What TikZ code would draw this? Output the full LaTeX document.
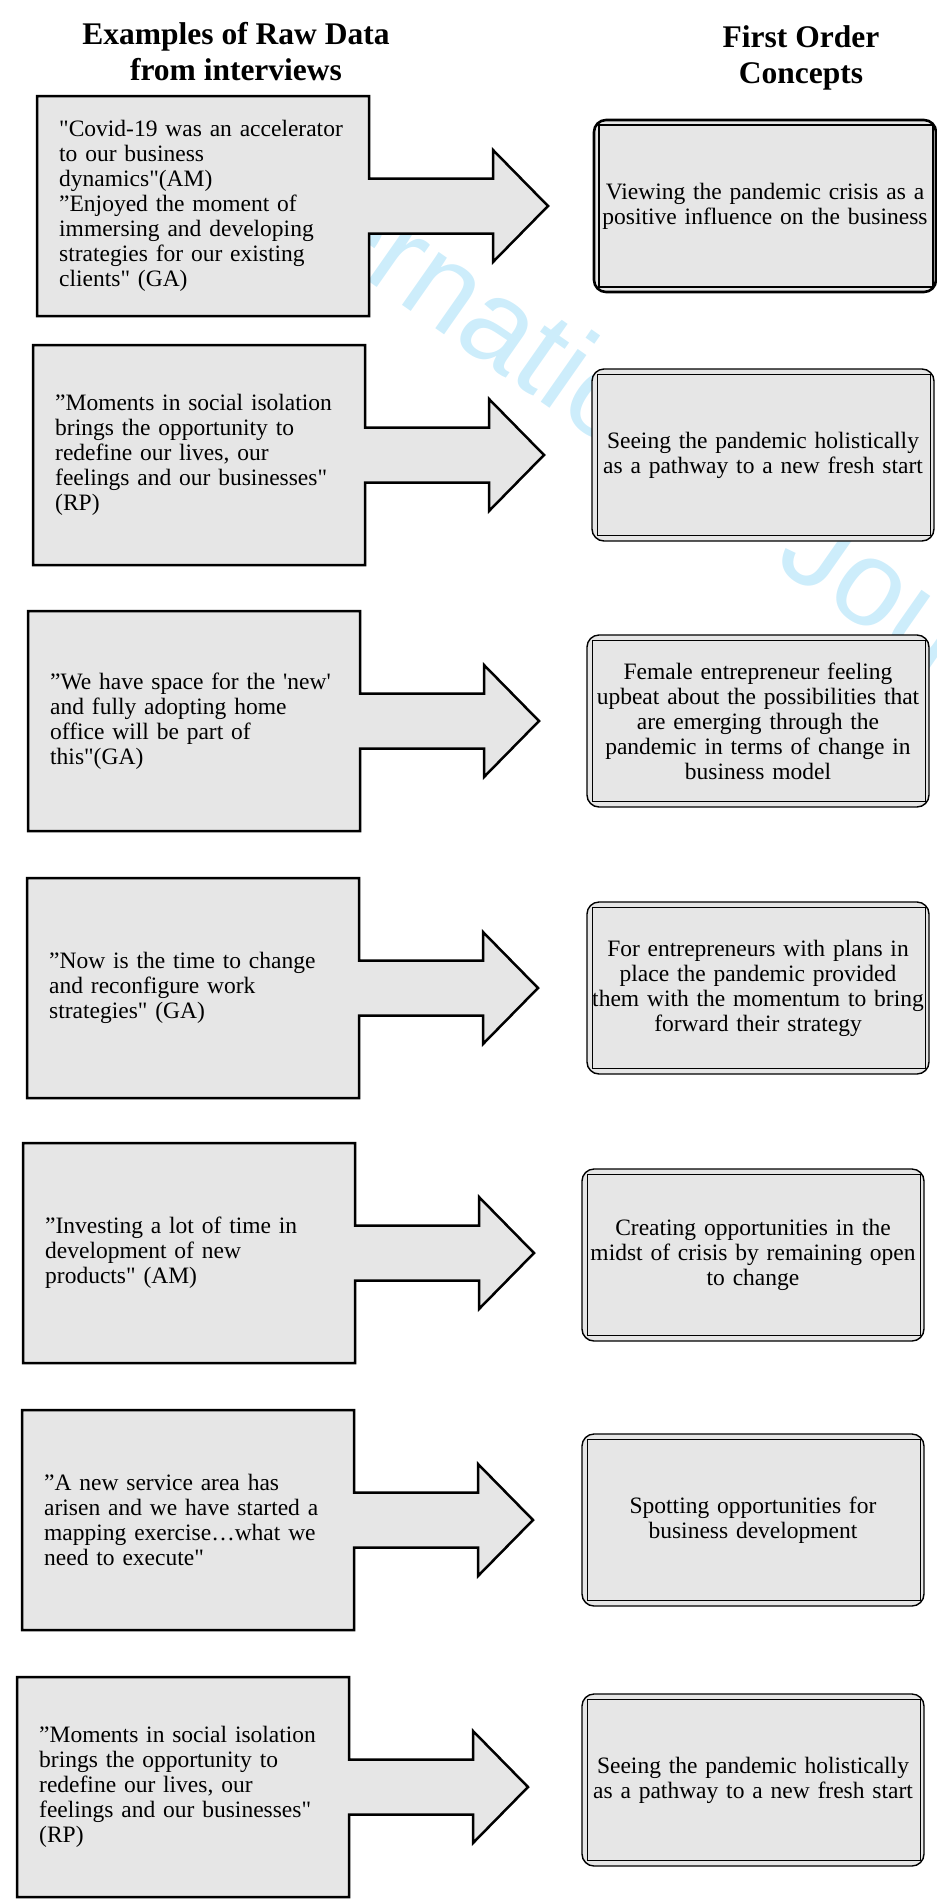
\documentclass[tikz,border=0pt]{standalone}
\usepackage{fontspec}
\setmainfont{Liberation Serif}[Ligatures=TeXOff]
\newfontfamily\wmfont{Liberation Sans}
\usetikzlibrary{calc,backgrounds}
\definecolor{boxgray}{RGB}{230,230,230}
\definecolor{wmblue}{RGB}{205,237,251}

\begin{document}
\begin{tikzpicture}[x=1pt, y=-1pt,
    quote/.style={anchor=west, text width=310pt, inner sep=0pt, align=left, font=\fontsize{23.5}{25}\selectfont},
    concept/.style={draw, line width=1.4pt, rounded corners=12pt, fill=boxgray, minimum width=342pt, minimum height=172pt,
        text width=336pt, inner xsep=3pt, align=center, font=\fontsize{23.5}{25}\selectfont},
    heading/.style={anchor=north, inner sep=0pt, align=center, font=\fontsize{31.5}{36}\selectfont\bfseries},
    callout/.style={draw=black, fill=boxgray, line width=2.5pt, line join=miter},
    wm/.style={inner sep=0pt, text=wmblue, font=\wmfont\fontsize{122}{122}\selectfont}]
    \useasboundingbox (0,0) rectangle (937,1904);

    \node[heading] (hraw) at (236,22) {Examples of Raw Data\\from interviews};
    \node[heading] (hfirst) at (801,25) {First Order\\Concepts};

    \node[quote] (q1) at (59,206) {"Covid-19 was an accelerator\\to our business\\dynamics"(AM)\\”Enjoyed the moment of\\immersing and developing\\strategies for our existing\\clients" (GA)};
    \node[quote] (q2) at (55,455) {”Moments in social isolation\\brings the opportunity to\\redefine our lives, our\\feelings and our businesses"\\(RP)};
    \node[quote] (q3) at (50,721) {”We have space for the 'new'\\and fully adopting home\\office will be part of\\this"(GA)};
    \node[quote] (q4) at (49,988) {”Now is the time to change\\and reconfigure work\\strategies" (GA)};
    \node[quote] (q5) at (45,1253) {”Investing a lot of time in\\development of new\\products" (AM)};
    \node[quote] (q6) at (44,1520) {”A new service area has\\arisen and we have started a\\mapping exercise…what we\\need to execute"};
    \node[quote] (q7) at (39,1787) {”Moments in social isolation\\brings the opportunity to\\redefine our lives, our\\feelings and our businesses"\\(RP)};

    \node[concept, line width=2.6pt] (c1) at (765,206) {Viewing the pandemic crisis as a\\positive influence on the business};
    \node[concept] (c2) at (763,455) {Seeing the pandemic holistically\\as a pathway to a new fresh start};
    \node[concept] (c3) at (758,721) {Female entrepreneur feeling\\upbeat about the possibilities that\\are emerging through the\\pandemic in terms of change in\\business model};
    \node[concept] (c4) at (758,988) {For entrepreneurs with plans in\\place the pandemic provided\\them with the momentum to bring\\forward their strategy};
    \node[concept] (c5) at (753,1255) {Creating opportunities in the\\midst of crisis by remaining open\\to change};
    \node[concept] (c6) at (753,1520) {Spotting opportunities for\\business development};
    \node[concept] (c7) at (753,1780) {Seeing the pandemic holistically\\as a pathway to a new fresh start};

    \foreach \i/\lw in {1/2pt,2/0.9pt,3/0.9pt,4/0.9pt,5/0.9pt,6/0.9pt,7/0.9pt}
        \draw[line width=\lw] ($(c\i.north west)+(6,6)$) rectangle ($(c\i.south east)+(-4,-6)$);

    \begin{scope}[on background layer]
        \node[wm, rotate=-35, anchor=base west] (wmark) at (195,160) {International Journal of Gender and Entrepreneurship};
        \foreach \i in {1,...,7}
            \draw[callout] ($(q\i.west)+(-22,-110)$) -- ++(332,0) -- ++(0,82.5) -- ++(124,0) -- ++(0,-28.5)
                -- ++(55,56) -- ++(-55,56) -- ++(0,-28.5) -- ++(-124,0) -- ++(0,82.5) -- ++(-332,0) -- cycle;
    \end{scope}
\end{tikzpicture}
\end{document}
